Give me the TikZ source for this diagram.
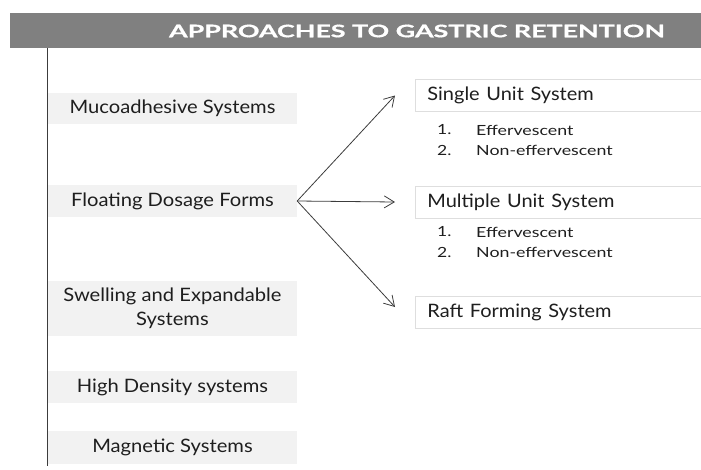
\documentclass[tikz,border=0pt]{standalone}
\usepackage{fontspec}
\setmainfont{Lato}
\newfontfamily\bannerfont{Lato}[BoldFeatures={FakeBold=0.7}]
\usetikzlibrary{arrows.meta}
\definecolor{barGray}{HTML}{808080}
\definecolor{boxFill}{HTML}{F2F2F2}
\definecolor{boxEdge}{HTML}{DEDEDE}
\definecolor{ink}{HTML}{1E1E1E}
\definecolor{lineGray}{HTML}{3C3C3C}
% horizontal stretch of a piece of text
\newcommand{\stretchx}[2]{\scalebox{#1}[1]{#2}}
\tikzset{
  leftbox/.style={fill=boxFill, draw=none, minimum width=249pt, align=center,
    text=ink, font=\fontsize{18.5}{24}\selectfont, inner sep=0pt},
  rightbox/.style={fill=white, draw=boxEdge, line width=0.8pt, anchor=west,
    minimum width=300pt, text width=276pt, align=left, inner xsep=12pt,
    minimum height=32pt, text=ink, font=\fontsize{18.5}{22}\selectfont, inner ysep=0pt},
  listtext/.style={anchor=west, text=ink, font=\fontsize{14}{16}\selectfont, inner sep=0pt},
  branch/.style={draw=lineGray, line width=0.8pt, -{Straight Barb[length=10pt,width=12pt]}},
}
\begin{document}
\begin{tikzpicture}[x=1pt, y=-1pt]
\useasboundingbox (0,0) rectangle (701,469);

% title banner
\node[fill=barGray, minimum width=691pt, minimum height=35pt, inner sep=0pt, anchor=north west]
  (bar) at (10,13) {};
\node[text=white, font=\bannerfont\bfseries\fontsize{17.3}{20}\selectfont, inner sep=0pt]
  (title) at (417,31) {\stretchx{1.55}{APPROACHES TO GASTRIC RETENTION}};

% spine on the left
\coordinate (spineTop) at (47,48);
\coordinate (spineBot) at (47,466);
\draw[lineGray, line width=1pt] (spineTop) -- (spineBot);

% approaches
\node[leftbox, minimum height=31pt] (muco)  at (172.5,108.5) {\stretchx{1.09}{Mucoadhesive Systems}};
\node[leftbox, minimum height=32pt] (float) at (172.5,201)   {\stretchx{1.09}{Floating Dosage Forms}};
\node[leftbox, minimum height=55pt] (swell) at (172.5,308.5)
  {\stretchx{1.09}{\begin{tabular}{@{}c@{}}Swelling and Expandable\\Systems\end{tabular}}};
\node[leftbox, minimum height=32pt] (dense) at (172.5,387)   {\stretchx{1.09}{High Density systems}};
\node[leftbox, minimum height=33pt] (magnet) at (172.5,447.5) {\stretchx{1.09}{Magnetic Systems}};

% floating sub-types
\node[rightbox] (single)   at (415,95.5) {\stretchx{1.08}{Single Unit System}};
\node[rightbox] (multiple) at (415,202)  {\stretchx{1.08}{Multiple Unit System}};
\node[rightbox] (raft)     at (415,312)  {\stretchx{1.08}{Raft Forming System}};

\node[listtext] (s1n) at (437,130) {\stretchx{1.25}{1.}};
\node[listtext] (s1t) at (476,130) {\stretchx{1.27}{Effervescent}};
\node[listtext] (s2n) at (437,150) {\stretchx{1.25}{2.}};
\node[listtext] (s2t) at (476,150) {\stretchx{1.27}{Non-effervescent}};
\node[listtext] (m1n) at (437,232) {\stretchx{1.25}{1.}};
\node[listtext] (m1t) at (476,232) {\stretchx{1.27}{Effervescent}};
\node[listtext] (m2n) at (437,252) {\stretchx{1.25}{2.}};
\node[listtext] (m2t) at (476,252) {\stretchx{1.27}{Non-effervescent}};

% branches
\draw[branch] (float.east) -- ([xshift=-20pt]single.west);
\draw[branch] (float.east) -- ([xshift=-20pt]multiple.west);
\draw[branch] (float.east) -- ([xshift=-20pt,yshift=5pt]raft.west);
\end{tikzpicture}
\end{document}
